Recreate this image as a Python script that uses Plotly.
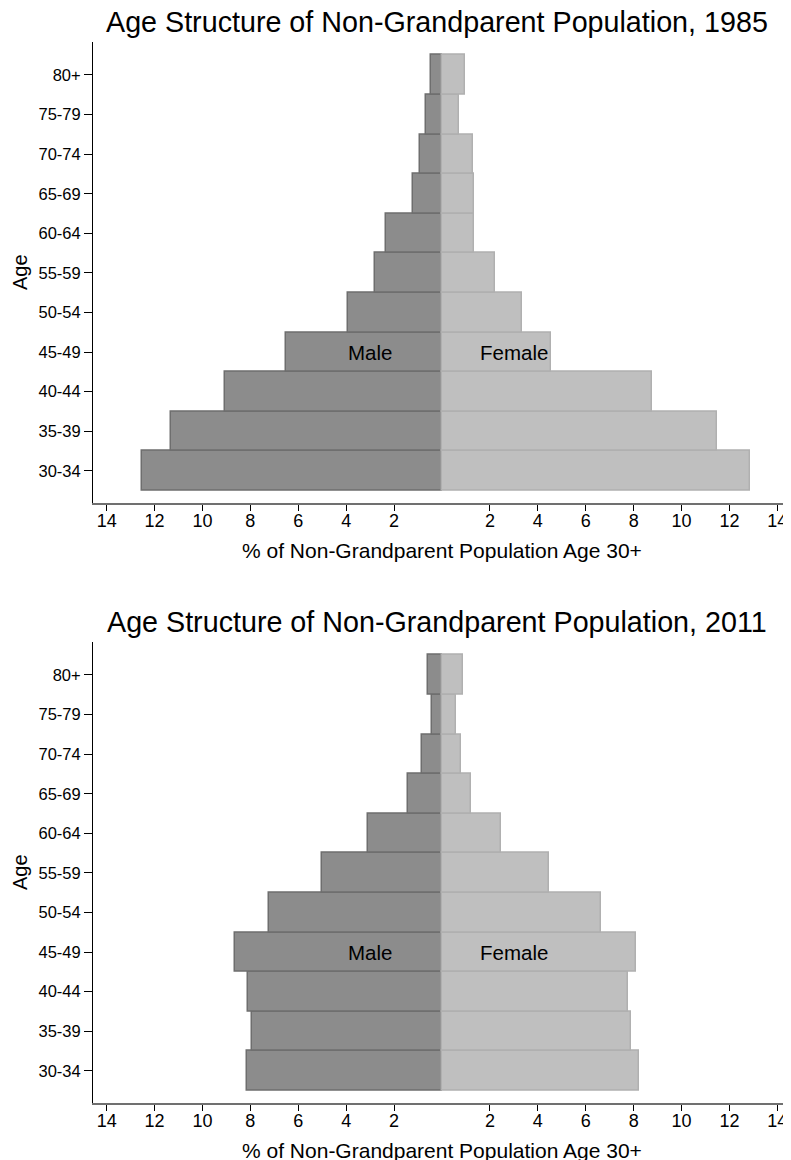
import plotly.graph_objects as go

ages = ["30-34", "35-39", "40-44", "45-49", "50-54", "55-59", "60-64", "65-69", "70-74", "75-79", "80+"]
male_1985 = [12.53, 11.32, 9.07, 6.50, 3.93, 2.81, 2.33, 1.22, 0.93, 0.65, 0.44]
female_1985 = [12.87, 11.49, 8.78, 4.54, 3.35, 2.21, 1.34, 1.34, 1.30, 0.73, 0.98]
male_2011 = [8.13, 7.93, 8.11, 8.66, 7.23, 5.00, 3.10, 1.43, 0.84, 0.42, 0.59]
female_2011 = [8.23, 7.90, 7.76, 8.11, 6.65, 4.48, 2.47, 1.22, 0.80, 0.59, 0.88]
tick_vals = [-14, -12, -10, -8, -6, -4, -2, 2, 4, 6, 8, 10, 12, 14]
tick_text = [str(abs(v)) for v in tick_vals]
titles = ["Age Structure of Non-Grandparent Population, 1985",
          "Age Structure of Non-Grandparent Population, 2011"]
x_title = "% of Non-Grandparent Population Age 30+"

# the page body has an 8px margin, so the figure is drawn 8px in from the corner
OFF = 8
W, H = 791 - OFF, 1160 - OFF
FONT = "Liberation Sans, Arial, Helvetica, sans-serif"
MALE_FILL, MALE_LINE = "#8c8c8c", "#6e6e6e"
FEM_FILL, FEM_LINE = "#bfbfbf", "#b0b0b0"

fig = go.Figure()
panels = [(male_1985, female_1985, "x", "y"), (male_2011, female_2011, "x2", "y2")]
for m, f, xa, ya in panels:
    fig.add_trace(go.Bar(y=ages, x=[-v for v in m], orientation="h", width=1,
                         marker=dict(color=MALE_FILL, line=dict(color=MALE_LINE, width=1.5)),
                         xaxis=xa, yaxis=ya, showlegend=False, hoverinfo="skip"))
    fig.add_trace(go.Bar(y=ages, x=f, orientation="h", width=1,
                         marker=dict(color=FEM_FILL, line=dict(color=FEM_LINE, width=1.5)),
                         xaxis=xa, yaxis=ya, showlegend=False, hoverinfo="skip"))

# pixel layout (page coordinates)
L = 93
PW = 791 - L
top_domains = [(41.7, 503.3), (641.7, 1103.3)]
def ydom(t, b):
    return [1 - (b - OFF) / H, 1 - (t - OFF) / H]
def px(xp):
    return (xp - L) / PW
def py(yp):
    return 1 - (yp - OFF) / H

xr = [-14.57, 14.57]
xaxis_common = dict(range=xr, tickvals=tick_vals, ticktext=tick_text, ticks="outside",
                    ticklen=6, tickwidth=1, tickcolor="black", showline=True,
                    linecolor="#707070", linewidth=2, showgrid=False, zeroline=False,
                    automargin=False, ticklabelstandoff=-6,
                    tickfont=dict(family=FONT, size=18, color="black"), fixedrange=True)
yaxis_common = dict(type="category", categoryorder="array", categoryarray=ages,
                    range=[-0.82, 10.84], ticks="outside", ticklen=8, tickwidth=1,
                    tickcolor="black", showline=True, linecolor="black", linewidth=1,
                    showgrid=False, zeroline=False, automargin=False,
                    tickfont=dict(family=FONT, size=16.5, color="black"), fixedrange=True)

fig.update_layout(
    template="none",
    width=W, height=H,
    margin=dict(l=L - OFF, r=0, t=0, b=0, pad=0),
    paper_bgcolor="white", plot_bgcolor="white",
    barmode="relative", bargap=0,
    xaxis=dict(domain=[0, 1], anchor="y", **xaxis_common),
    yaxis=dict(domain=ydom(*top_domains[0]), anchor="x", **yaxis_common),
    xaxis2=dict(domain=[0, 1], anchor="y2", **xaxis_common),
    yaxis2=dict(domain=ydom(*top_domains[1]), anchor="x2", **yaxis_common),
    font=dict(family=FONT, color="black"),
)

anns = []
for i in range(2):
    off = 600 * i
    xa = "x" if i == 0 else "x2"
    ya = "y" if i == 0 else "y2"
    anns.append(dict(text=titles[i], xref="paper", yref="paper", x=px(437),
                     y=py(22 + off), xanchor="center", yanchor="middle",
                     showarrow=False, font=dict(family=FONT, size=28.7, color="black")))
    anns.append(dict(text=x_title, xref="paper", yref="paper", x=px(441.5),
                     y=py(550 + off), xanchor="center", yanchor="middle",
                     showarrow=False, font=dict(family=FONT, size=21, color="black")))
    anns.append(dict(text="Age", xref="paper", yref="paper", x=px(20),
                     y=py(272 + off), xanchor="center", yanchor="middle", textangle=-90,
                     showarrow=False, font=dict(family=FONT, size=20, color="black")))
    anns.append(dict(text="Male", xref=xa, yref=ya, x=-3.0, y="45-49", xanchor="center",
                     yanchor="middle", showarrow=False,
                     font=dict(family=FONT, size=20.5, color="black")))
    anns.append(dict(text="Female", xref=xa, yref=ya, x=3.0, y="45-49", xanchor="center",
                     yanchor="middle", showarrow=False,
                     font=dict(family=FONT, size=20.5, color="black")))
fig.update_layout(annotations=anns)

fig.write_html("out.html")
